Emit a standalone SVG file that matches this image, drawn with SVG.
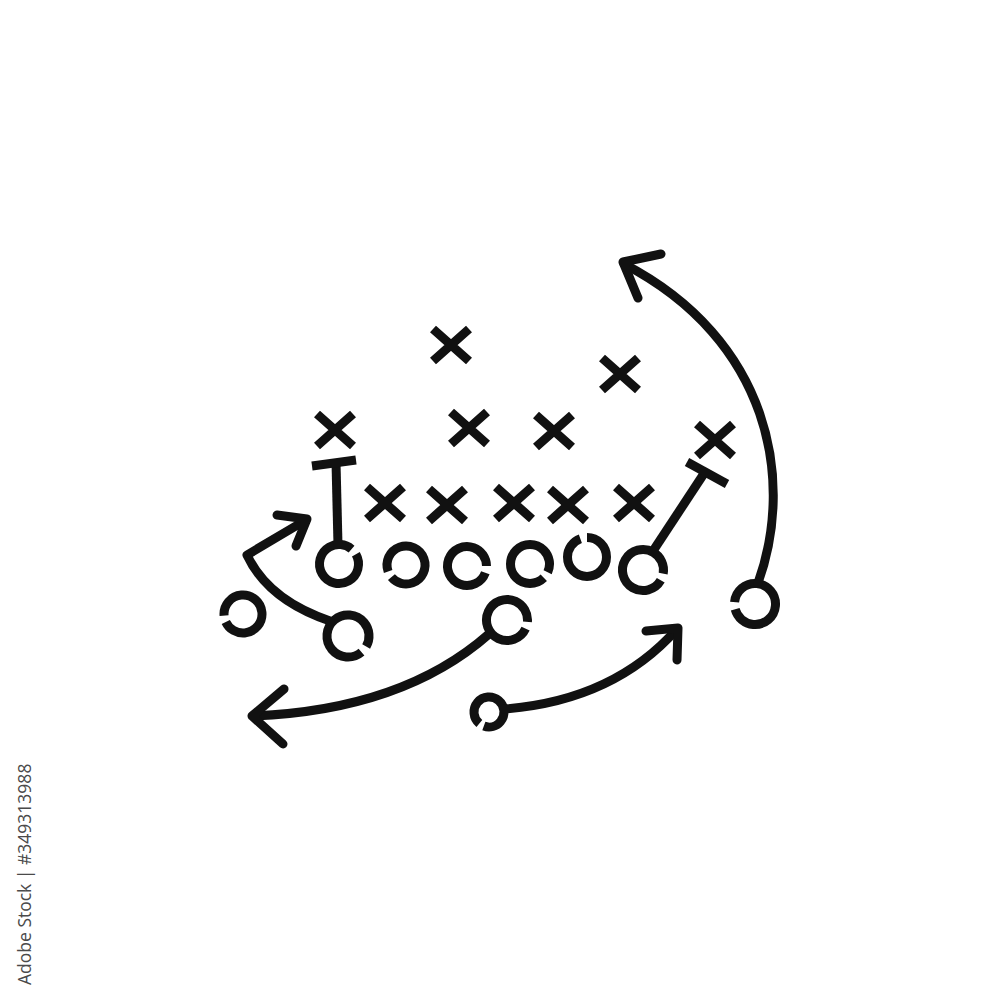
<svg xmlns="http://www.w3.org/2000/svg" width="1000" height="1000" viewBox="0 0 1000 1000">
  <style>
    .ink { fill: none; stroke: #111; stroke-width: 9; stroke-linecap: round; stroke-linejoin: round; }
    .bar { fill: none; stroke: #111; stroke-width: 9; stroke-linecap: butt; }
    .xm { fill: none; stroke: #111; stroke-width: 9; stroke-linecap: butt; }
    .o { fill: none; stroke: #111; stroke-width: 9; stroke-linecap: butt; stroke-dasharray: 340 20; }
    .id { font-family: "Open Sans", "Liberation Sans", sans-serif; font-size: 17.5px; fill: #4a4a4a; }
  </style>
  <defs>
    <path id="xmark" class="xm" d="M-18 -16 L18 16 M18 -16 L-18 16"/>
  </defs>
  <rect width="1000" height="1000" fill="#fff"/>

  <!-- defense X marks -->
  <g id="x1"><use href="#xmark" x="451" y="345"/></g>
  <g id="x2"><use href="#xmark" x="620" y="374"/></g>
  <g id="x3"><use href="#xmark" x="335" y="430"/></g>
  <g id="x4"><use href="#xmark" x="469" y="428"/></g>
  <g id="x5"><use href="#xmark" x="554" y="431"/></g>
  <g id="x6"><use href="#xmark" x="715" y="440"/></g>
  <g id="x7"><use href="#xmark" x="385" y="503"/></g>
  <g id="x8"><use href="#xmark" x="447" y="505"/></g>
  <g id="x9"><use href="#xmark" x="514" y="503"/></g>
  <g id="x10"><use href="#xmark" x="568" y="505"/></g>
  <g id="x11"><use href="#xmark" x="634" y="503"/></g>

  <!-- offense O marks -->
  <g id="o1"><circle class="o" cx="339" cy="564" r="19.5" pathLength="360" transform="rotate(-30 339 564)"/></g>
  <g id="o2"><circle class="o" cx="406" cy="565" r="19" pathLength="360" transform="rotate(160 406 565)"/></g>
  <g id="o3"><circle class="o" cx="467" cy="566" r="19.5" pathLength="360" transform="rotate(20 467 566)"/></g>
  <g id="o4"><circle class="o" cx="530" cy="564" r="19.5" pathLength="360" transform="rotate(45 530 564)"/></g>
  <g id="o5"><circle class="o" cx="587" cy="557" r="19.5" pathLength="360" transform="rotate(-90 587 557)"/></g>
  <g id="o6"><circle class="o" cx="643" cy="570" r="20.5" pathLength="360" transform="rotate(30 643 570)"/></g>
  <g id="o7"><circle class="o" cx="243" cy="614" r="19" pathLength="360" transform="rotate(175 243 614)"/></g>
  <g id="o8"><circle class="o" cx="348" cy="636" r="21" pathLength="360" transform="rotate(50 348 636)"/></g>
  <g id="o9"><circle class="o" cx="507" cy="620" r="20.5" pathLength="360" transform="rotate(25 507 620)"/></g>
  <g id="o10"><circle class="o" cx="489" cy="712" r="15" pathLength="360" transform="rotate(130 489 712)"/></g>
  <g id="o11"><circle class="o" cx="755" cy="604" r="20.5" pathLength="360" transform="rotate(185 755 604)"/></g>

  <!-- connectors -->
  <g id="connectors">
    <!-- left block -->
    <path class="bar" d="M336 462 L338 545"/>
    <path class="bar" d="M312 466 L356 460"/>
    <!-- right block -->
    <path class="bar" d="M653 551 L705 472"/>
    <path class="bar" d="M687 462 L727 484"/>
    <!-- left route -->
    <path class="ink" d="M330 621 Q 268 600 247 555 L 306 520"/>
    <path class="ink" d="M277 515 L307 519 L296 546"/>
    <!-- long left route -->
    <path class="ink" d="M489 634 C 430 686 352 712 253 716"/>
    <path class="ink" d="M284 689 L252 716 L283 744"/>
    <!-- bottom right route -->
    <path class="ink" d="M504 709 C 570 704 630 682 677 629"/>
    <path class="ink" d="M646 631 L678 628 L677 660"/>
    <!-- big arc -->
    <path class="ink" d="M758 583 C 795 480 770 340 624 264"/>
    <path class="ink" d="M661 254 L623 262 L638 298"/>
  </g>

  <text class="id" transform="translate(31 985) rotate(-90)">Adobe Stock | #349313988</text>
</svg>
